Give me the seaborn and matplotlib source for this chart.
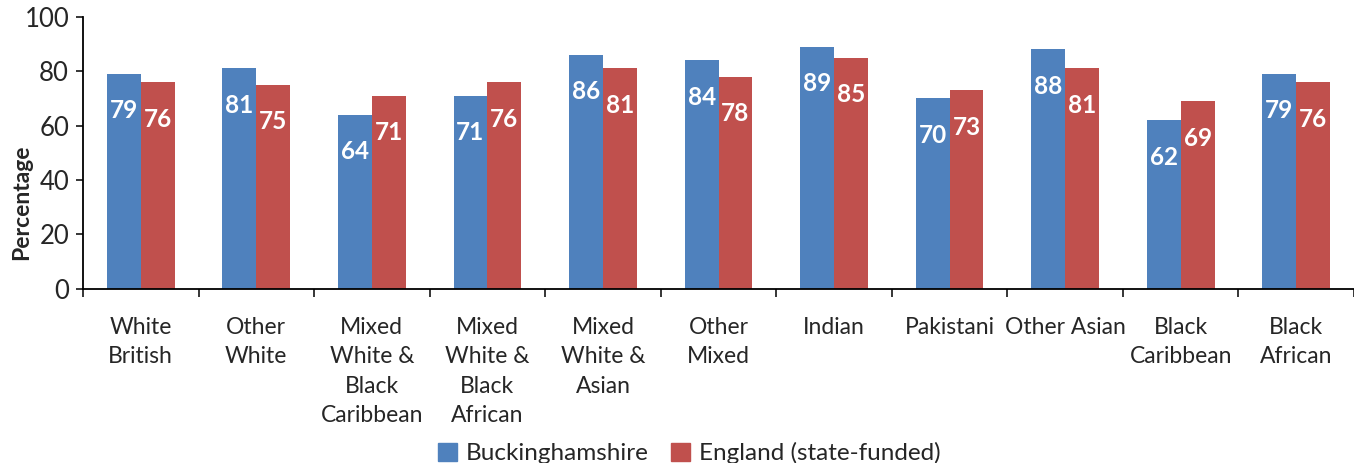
import numpy as np
import pandas as pd
import matplotlib
matplotlib.use("Agg")
import matplotlib.pyplot as plt
import seaborn as sns

# --- Data ---
categories = ['White\nBritish', 'Other\nWhite', 'Mixed\nWhite &\nBlack\nCaribbean',
              'Mixed\nWhite &\nBlack\nAfrican', 'Mixed\nWhite &\nAsian', 'Other\nMixed',
              'Indian', 'Pakistani', 'Other Asian', 'Black\nCaribbean', 'Black\nAfrican']
bucks = [79, 81, 64, 71, 86, 84, 89, 70, 88, 62, 79]
england = [76, 75, 71, 76, 81, 78, 85, 73, 81, 69, 76]
series_names = ['Buckinghamshire', 'England (state-funded)']
colors = ['#4F81BD', '#C0504D']

df = pd.DataFrame({
    'Category': categories * 2,
    'Percentage': bucks + england,
    'Series': [series_names[0]] * len(categories) + [series_names[1]] * len(categories),
})

# --- Style ---
sns.set_style('white')
plt.rcParams['font.family'] = ['Lato', 'DejaVu Sans']

fig = plt.figure(figsize=(13.54, 4.63), dpi=100)
ax = fig.add_axes([0.0613, 0.376, 0.9387, 0.588])

sns.barplot(data=df, x='Category', y='Percentage', hue='Series', order=categories,
            hue_order=series_names, palette=colors, width=0.586, saturation=1,
            linewidth=0, ax=ax, legend=False)

# --- Value labels inside bars ---
for cont in ax.containers:
    ax.bar_label(cont, fmt='%d', padding=-35, color='white',
                 fontsize=17.5, fontweight='bold')

# --- Axes ---
ax.set_ylim(0, 100)
ax.set_xlim(-0.5, 10.45)
ax.set_yticks(np.arange(0, 101, 20))
ax.tick_params(axis='y', labelsize=18.5, length=5, width=1.3, direction='out', left=True, pad=5)
ax.set_xticks(range(len(categories)))
ax.set_xticklabels(categories, fontsize=16.5, va='top')
for lbl in ax.get_xticklabels():
    lbl.set_linespacing(1.5)
ax.tick_params(axis='x', which='major', length=0, pad=20)
ax.set_xticks(np.arange(-0.5, len(categories), 1), minor=True)
ax.tick_params(axis='x', which='minor', length=6, width=1.3, direction='out', bottom=True)
ax.set_xlabel('')
ax.set_ylabel('Percentage', fontsize=16.5, fontweight='bold')
ax.yaxis.set_label_coords(-0.040, 0.32)

sns.despine(ax=ax)
for side in ['left', 'bottom']:
    ax.spines[side].set_color('black')
    ax.spines[side].set_linewidth(1.3)

# --- Legend ---
handles = [plt.Rectangle((0, 0), 1, 1, color=c) for c in colors]
fig.legend(handles, series_names, loc='lower center', bbox_to_anchor=(0.509, -0.05),
           ncol=2, frameon=False, fontsize=17.5, handlelength=0.8, handleheight=0.8,
           handletextpad=0.35, columnspacing=0.9)

fig.savefig('out.png', dpi=100)
